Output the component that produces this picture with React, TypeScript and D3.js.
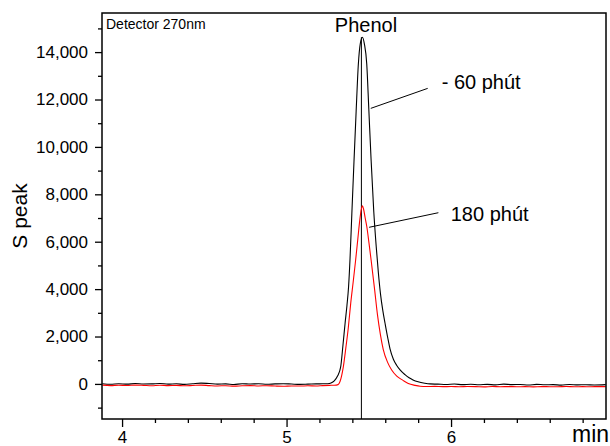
import * as d3 from 'd3'
import { useEffect, useRef } from 'react'

const width = 610, height = 446
const margin = { top: 13, right: 4, bottom: 27, left: 102 }

// 60 phút (black) — retention time (min) / signal
const t60 = [
  3.88, 3.93, 3.98, 4.03, 4.08, 4.13, 4.18, 4.23, 4.28, 4.33, 4.38, 4.43, 4.48, 4.53,
  4.58, 4.63, 4.68, 4.73, 4.78, 4.83, 4.88, 4.93, 4.98, 5.03, 5.08, 5.13, 5.18, 5.22,
  5.25, 5.27, 5.29, 5.31, 5.329, 5.343, 5.356, 5.367, 5.377, 5.386, 5.397, 5.41, 5.423,
  5.4365, 5.448, 5.461, 5.473, 5.4875, 5.5, 5.514, 5.53, 5.545, 5.558, 5.571, 5.585, 5.599,
  5.615, 5.629, 5.65, 5.67, 5.69, 5.72, 5.745, 5.769, 5.8, 5.84, 5.872, 5.92, 5.97, 6.02,
  6.07, 6.12, 6.17, 6.22, 6.27, 6.32, 6.37, 6.42, 6.47, 6.52, 6.57, 6.62, 6.67, 6.72,
  6.77, 6.82, 6.87, 6.94,
]
const s60 = [
  10, -15, 5, -10, 15, -5, 0, 20, -10, 5, -20, 10, 35, 15,
  -10, 0, -25, 10, -5, 5, -15, 0, 10, -5, -20, -10, 0, 5,
  10, 40, 130, 330, 717, 1640, 2572, 3300, 4100, 5300, 7200, 9400, 11500,
  13500, 14350, 14630, 14350, 13500, 11600, 9446, 7300, 5800, 4700, 3800, 3100, 2550,
  1950, 1480, 1030, 780, 590, 390, 260, 169, 90, 30, 0, -10, -25, -5,
  -30, -15, -35, -20, -40, -10, -30, -25, -45, -20, -35, -30, -50, -25,
  -40, -35, -45, -30,
]

// 180 phút (red)
const t180 = [
  3.88, 3.93, 3.98, 4.03, 4.08, 4.13, 4.18, 4.23, 4.28, 4.33, 4.38, 4.43, 4.48, 4.53,
  4.58, 4.63, 4.68, 4.73, 4.78, 4.83, 4.88, 4.93, 4.98, 5.03, 5.08, 5.13, 5.18, 5.22,
  5.26, 5.29, 5.313, 5.325, 5.335, 5.345, 5.36, 5.375, 5.39, 5.405, 5.42, 5.433, 5.445,
  5.454, 5.461, 5.468, 5.478, 5.488, 5.501, 5.514, 5.535, 5.553, 5.57, 5.588, 5.615, 5.639,
  5.67, 5.708, 5.74, 5.78, 5.812, 5.85, 5.9, 5.95, 6.0, 6.05, 6.1, 6.15, 6.2,
  6.25, 6.3, 6.35, 6.4, 6.45, 6.5, 6.55, 6.6, 6.65, 6.7, 6.75, 6.8, 6.85, 6.9, 6.94,
]
const s180 = [
  -50, -70, -55, -65, -50, -60, -75, -55, -70, -60, -80, -65, -50, -70,
  -85, -75, -95, -80, -70, -85, -75, -90, -100, -85, -90, -80, -85, -70,
  -60, -55, -30, 100, 350, 717, 1500, 2350, 3400, 4300, 5229, 6100, 6900,
  7350, 7519, 7380, 7000, 6633, 5950, 5229, 4000, 2900, 2100, 1450, 900, 590,
  330, 150, 20, -60, -100, -110, -105, -115, -110, -120, -110, -115, -125,
  -110, -118, -112, -120, -115, -125, -112, -118, -120, -110, -118, -115, -120, -112, -115,
]

const xMajor = [4, 5, 6]
const xMinor = [4.2, 4.4, 4.6, 4.8, 5.2, 5.4, 5.6, 5.8, 6.2, 6.4, 6.6, 6.8]
const yMajor = [0, 2000, 4000, 6000, 8000, 10000, 12000, 14000]
const yMinor = [-1000, 1000, 3000, 5000, 7000, 9000, 11000, 13000, 15000]

const peakTime = 5.455
const peakTop = 14630

// labels: [text, time, signal] and leader lines [t0, s0, t1, s1]
const labels: [string, number, number][] = [
  ['- 60 phút', 5.943, 12440],
  ['180 phút', 5.998, 6874],
]
const leaders: [number, number, number, number][] = [
  [5.858, 12470, 5.512, 11626],
  [5.923, 7224, 5.502, 6608],
]

const font = 'Liberation Sans, Arial, sans-serif'

const chart = (svgNode: SVGSVGElement) => {
  const svg = d3.select(svgNode)
  svg.selectAll('*').remove()

  const x = d3.scaleLinear().domain([3.878, 6.942]).range([margin.left, width - margin.right])
  const y = d3.scaleLinear().domain([-1480, 15650]).range([height - margin.bottom, margin.top])
  const [x0, x1] = x.range()
  const [yb, yt] = y.range()

  svg.append('clipPath').attr('id', 'plot-clip')
    .append('rect').attr('x', x0).attr('y', yt).attr('width', x1 - x0).attr('height', yb - yt)

  const line = d3.line<[number, number]>()
    .x(d => x(d[0]))
    .y(d => y(d[1]))
    .curve(d3.curveMonotoneX)

  const plot = svg.append('g').attr('clip-path', 'url(#plot-clip)').attr('fill', 'none')

  // retention marker
  plot.append('line')
    .attr('x1', x(peakTime)).attr('x2', x(peakTime))
    .attr('y1', y(peakTop)).attr('y2', yb)
    .attr('stroke', '#000').attr('stroke-width', 1)

  plot.append('path')
    .datum(t60.map((t, i) => [t, s60[i]] as [number, number]))
    .attr('d', line)
    .attr('stroke', '#000').attr('stroke-width', 1.1)

  plot.append('path')
    .datum(t180.map((t, i) => [t, s180[i]] as [number, number]))
    .attr('d', line)
    .attr('stroke', '#ff0000').attr('stroke-width', 1.1)

  // frame
  svg.append('rect')
    .attr('x', x0).attr('y', yt).attr('width', x1 - x0).attr('height', yb - yt)
    .attr('fill', 'none').attr('stroke', '#000').attr('stroke-width', 1.5)

  const styleAxis = (g: any) => {
    g.select('.domain').remove()
    g.selectAll('line').attr('stroke', '#000').attr('stroke-width', 1.3)
    g.selectAll('text').attr('font-family', font).attr('font-size', 17).attr('fill', '#000')
  }

  svg.append('g').attr('transform', `translate(${x0},0)`)
    .call(d3.axisLeft(y).tickValues(yMajor).tickFormat(d3.format(',') as any).tickSize(7).tickPadding(7))
    .call(styleAxis)
  svg.append('g').attr('transform', `translate(${x0},0)`)
    .call(d3.axisLeft(y).tickValues(yMinor).tickFormat(() => '').tickSize(4))
    .call(styleAxis)

  svg.append('g').attr('transform', `translate(0,${yb})`)
    .call(d3.axisBottom(x).tickValues(xMajor).tickFormat(d3.format('d') as any).tickSize(8).tickPadding(4))
    .call(styleAxis)
  svg.append('g').attr('transform', `translate(0,${yb})`)
    .call(d3.axisBottom(x).tickValues(xMinor).tickFormat(() => '').tickSize(4))
    .call(styleAxis)

  // annotations
  svg.append('g').selectAll('line').data(leaders).join('line')
    .attr('x1', d => x(d[0])).attr('y1', d => y(d[1]))
    .attr('x2', d => x(d[2])).attr('y2', d => y(d[3]))
    .attr('stroke', '#000').attr('stroke-width', 1)

  svg.append('g').selectAll('text').data(labels).join('text')
    .attr('x', d => x(d[1])).attr('y', d => y(d[2]))
    .attr('font-family', font).attr('font-size', 20)
    .text(d => d[0])

  svg.append('text')
    .attr('x', x(5.483)).attr('y', y(14845))
    .attr('text-anchor', 'middle')
    .attr('font-family', font).attr('font-size', 20)
    .text('Phenol')

  svg.append('text')
    .attr('x', x0 + 4).attr('y', yt + 16)
    .attr('font-family', font).attr('font-size', 14)
    .text('Detector 270nm')

  svg.append('text')
    .attr('transform', `translate(27,216) rotate(-90)`)
    .attr('text-anchor', 'middle')
    .attr('font-family', font).attr('font-size', 21)
    .text('S peak')

  svg.append('text')
    .attr('x', 572).attr('y', 442)
    .attr('font-family', font).attr('font-size', 23)
    .text('min')
}

export default function App() {
  const svg = useRef<SVGSVGElement>(null)
  useEffect(() => {
    if (svg.current) chart(svg.current)
  }, [])
  return (
    <svg
      ref={svg}
      width={width}
      height={height}
      style={{ position: 'absolute', left: 0, top: 0, background: '#fff', display: 'block' }}
    />
  )
}
